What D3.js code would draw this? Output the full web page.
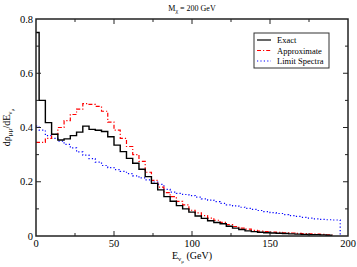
<!DOCTYPE html>
<html lang="en">
<head>
<meta charset="utf-8">
<script src="https://d3js.org/d3.v7.min.js"></script>
<style>
  body { margin: 0; background: #fff; }
  text { font-family: "Liberation Serif", "DejaVu Serif", serif; fill: #000; }
</style>
</head>
<body>
<script>
// bin edges in GeV (first bin is a half bin)
var edges = [0, 2, 6, 10, 14, 18, 22, 26, 30, 34, 38, 42, 46, 50, 54, 58, 62, 66, 70, 74,
  78, 82, 86, 90, 94, 98, 102, 106, 110, 114, 118, 122, 126, 130, 134, 138, 142, 146,
  150, 154, 158, 162, 166, 170, 174, 178, 182, 186, 190];
var limitEdges = edges.concat([195]);

var exact = [0.75, 0.50, 0.418, 0.375, 0.354, 0.358, 0.370, 0.383, 0.405, 0.393, 0.390,
  0.385, 0.366, 0.335, 0.311, 0.286, 0.268, 0.246, 0.219, 0.194, 0.170, 0.145, 0.128,
  0.112, 0.100, 0.088, 0.074, 0.065, 0.056, 0.050, 0.045, 0.036, 0.029, 0.024, 0.019,
  0.016, 0.014, 0.012, 0.011, 0.010, 0.009, 0.008, 0.007, 0.006, 0.005, 0.005, 0.004, 0.003];

var approx = [0.345, 0.345, 0.36, 0.375, 0.40, 0.425, 0.448, 0.468, 0.488, 0.485, 0.478,
  0.46, 0.42, 0.39, 0.36, 0.33, 0.30, 0.275, 0.235, 0.205, 0.18, 0.16, 0.145, 0.128,
  0.115, 0.095, 0.085, 0.075, 0.066, 0.058, 0.050, 0.042, 0.035, 0.029, 0.025, 0.021,
  0.018, 0.016, 0.014, 0.013, 0.012, 0.011, 0.010, 0.009, 0.008, 0.007, 0.006, 0.004];

var limit = [0.405, 0.39, 0.37, 0.36, 0.35, 0.338, 0.325, 0.31, 0.298, 0.285, 0.272,
  0.26, 0.252, 0.245, 0.238, 0.23, 0.222, 0.214, 0.207, 0.199, 0.19, 0.172, 0.162, 0.157,
  0.153, 0.149, 0.143, 0.137, 0.132, 0.127, 0.12, 0.115, 0.111, 0.106, 0.102, 0.098,
  0.094, 0.09, 0.086, 0.083, 0.079, 0.075, 0.072, 0.069, 0.066, 0.063, 0.061, 0.06, 0.059];

var xTicks = [0, 50, 100, 150, 200];
var yTicks = [0, 0.2, 0.4, 0.6, 0.8];
var seriesNames = ["Exact", "Approximate", "Limit Spectra"];

var W = 357, H = 267;
var m = {left: 36, right: 9, top: 19, bottom: 31};

var svg = d3.select("body").append("svg")
  .attr("width", W).attr("height", H);

var x = d3.scaleLinear().domain([0, 200]).range([m.left, W - m.right]);
var y = d3.scaleLinear().domain([0, 0.8]).range([H - m.bottom, m.top]);

// step path built from edges + values
function stepPoints(e, v, dropEnd) {
  var pts = [];
  for (var i = 0; i < v.length; i++) {
    pts.push([e[i], v[i]]);
    pts.push([e[i + 1], v[i]]);
  }
  if (dropEnd) pts.push([e[v.length], 0]);
  return pts;
}
var line = d3.line().x(function(d) { return x(d[0]); }).y(function(d) { return y(d[1]); });

var plot = svg.append("g");

plot.append("path")
  .attr("d", line(stepPoints(limitEdges, limit, true)))
  .attr("fill", "none").attr("stroke", "#0000ff")
  .attr("stroke-width", 1.2).attr("stroke-dasharray", "1.2,2.2");

plot.append("path")
  .attr("d", line(stepPoints(edges, approx, false)))
  .attr("fill", "none").attr("stroke", "#ff0000")
  .attr("stroke-width", 1.2).attr("stroke-dasharray", "4,2,1.2,2");

plot.append("path")
  .attr("d", line(stepPoints(edges, exact, false)))
  .attr("fill", "none").attr("stroke", "#000")
  .attr("stroke-width", 1.4);

// frame
svg.append("rect")
  .attr("x", x(0)).attr("y", y(0.8))
  .attr("width", x(200) - x(0)).attr("height", y(0) - y(0.8))
  .attr("fill", "none").attr("stroke", "#222").attr("stroke-width", 1.5);

// inward ticks on all four sides
var xMinor = [25, 75, 125, 175];
var yMinor = [0.1, 0.3, 0.5, 0.7];
var tickG = svg.append("g").attr("stroke", "#222").attr("stroke-width", 1);
function xt(vals, len) {
  vals.forEach(function(v) {
    tickG.append("line").attr("x1", x(v)).attr("x2", x(v)).attr("y1", y(0)).attr("y2", y(0) - len);
    tickG.append("line").attr("x1", x(v)).attr("x2", x(v)).attr("y1", y(0.8)).attr("y2", y(0.8) + len);
  });
}
function yt(vals, len) {
  vals.forEach(function(v) {
    tickG.append("line").attr("y1", y(v)).attr("y2", y(v)).attr("x1", x(0)).attr("x2", x(0) + len);
    tickG.append("line").attr("y1", y(v)).attr("y2", y(v)).attr("x1", x(200)).attr("x2", x(200) - len);
  });
}
xt(xTicks.slice(1, -1), 5); xt(xMinor, 3);
yt(yTicks.slice(1, -1), 5); yt(yMinor, 3);

// tick labels
svg.append("g").selectAll("text").data(xTicks).enter().append("text")
  .attr("x", function(d) { return x(d); }).attr("y", y(0) + 11)
  .attr("text-anchor", "middle").attr("font-size", 10.5)
  .text(function(d) { return d; });

svg.append("g").selectAll("text").data(yTicks).enter().append("text")
  .attr("x", x(0) - 3).attr("y", function(d) { return y(d) + 3.5; })
  .attr("text-anchor", "end").attr("font-size", 10.5)
  .text(function(d) { return d === 0 ? "0" : d3.format(".1f")(d); });

// title
var title = svg.append("text").attr("x", (x(0) + x(200)) / 2).attr("y", 11)
  .attr("text-anchor", "middle").attr("font-size", 8);
title.append("tspan").text("M");
title.append("tspan").attr("font-size", 6).attr("dy", 2).text("\u03c7");
title.append("tspan").attr("dy", -2).text(" = 200 GeV");

// x label
var xl = svg.append("text").attr("x", (x(0) + x(200)) / 2).attr("y", 259)
  .attr("text-anchor", "middle").attr("font-size", 10);
xl.append("tspan").text("E");
xl.append("tspan").attr("font-size", 7).attr("dy", 2).text("\u03bd");
xl.append("tspan").attr("font-size", 5).attr("dy", 1.5).text("\u03bc");
xl.append("tspan").attr("dy", -3.5).text(" (GeV)");

// y label
var yl = svg.append("text")
  .attr("transform", "translate(10," + ((y(0) + y(0.8)) / 2) + ") rotate(-90)")
  .attr("text-anchor", "middle").attr("font-size", 10);
yl.append("tspan").text("d\u03c1");
yl.append("tspan").attr("font-size", 7).attr("dy", 2).text("\u03bc\u03bc");
yl.append("tspan").attr("dy", -2).text("/dE");
yl.append("tspan").attr("font-size", 7).attr("dy", 2).text("\u03bd");
yl.append("tspan").attr("font-size", 5).attr("dy", 2).text("\u03bc");

// legend
var lg = svg.append("g").attr("transform", "translate(254,33)");
lg.append("rect").attr("width", 75).attr("height", 35)
  .attr("fill", "#fff").attr("stroke", "#333").attr("stroke-width", 1);
var styles = [
  {stroke: "#000", dash: null},
  {stroke: "#ff0000", dash: "4,2,1.2,2"},
  {stroke: "#0000ff", dash: "1.2,2.2"}
];
seriesNames.forEach(function(name, i) {
  var yy = 7 + i * 10.5;
  lg.append("line").attr("x1", 3).attr("x2", 17).attr("y1", yy).attr("y2", yy)
    .attr("stroke", styles[i].stroke).attr("stroke-width", 1.2)
    .attr("stroke-dasharray", styles[i].dash);
  lg.append("text").attr("x", 23).attr("y", yy + 3).attr("font-size", 8.5).text(name);
});
</script>
</body>
</html>
